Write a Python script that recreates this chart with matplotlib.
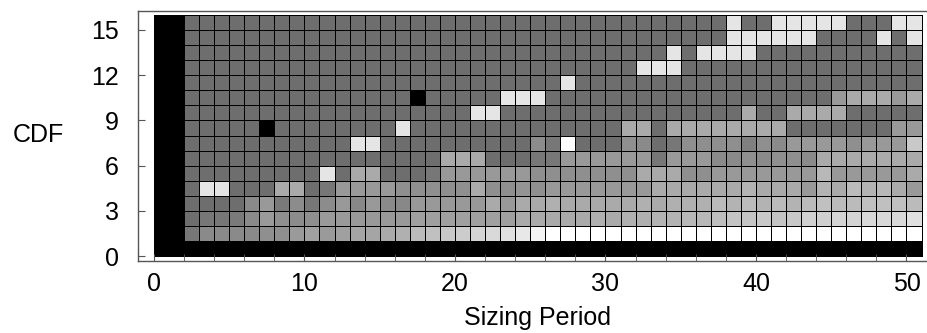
import matplotlib
matplotlib.use("Agg")
import matplotlib.pyplot as plt
import numpy as np

# grey level of each cell (0 = black, 255 = white), sizing periods 2..50
D, L, W, K = 110, 229, 255, 0

cdf_15 = [D] * 36 + [L, D, D, L, L, L, L, L, D, D, D, L, L]
cdf_14 = [D] * 36 + [L, L, L, L, L, L, D, D, D, D, L, D, L]
cdf_13 = [D] * 32 + [L, D, L, L, L, L] + [D] * 11
cdf_12 = [D] * 30 + [L, L, L] + [D] * 16
cdf_11 = [D] * 25 + [L] + [D] * 23
cdf_10 = [D] * 15 + [K] + [D] * 5 + [L, L, L] + [D] * 19 + [153, 170, 170, 170, 153, 170]
cdf_09 = [D] * 19 + [L, L] + [D] * 16 + [170, D, D, 170, 170, 170, 170, D, D, D, D, D]
cdf_08 = ([D] * 5 + [K] + [D] * 8 + [L] + [D] * 14
          + [170, 170, D, 170, 170, 170, 170, 170, 170, 170, 170] + [D] * 7 + [153, 153])
cdf_07 = ([D] * 11 + [L, L] + [D] * 10
          + [140, 119, W, D, D, D, 143, 138, D, 119, 143, 143, 143, 143, 128, 143, 138,
             153, 153, 153, 153, 143, 153, 153, 153, 200])
cdf_06 = ([D] * 17 + [170, 170, 170, D, D, D]
          + [119, 119, 153, 153, 153, 153, 153, 153, 119, 153, 153, 153, 138, 138, 143, 138,
             143, 143, 138, 170, 170, 170, 170, 170, 170, 170])
cdf_05 = ([D] * 9 + [L, D, 170, 170, D, D, D, 119]
          + [153, 153, 153, 153, 153, 153, 143, 143, 143, 143, 143, 143, 143, 170, 170, 170,
             143, 143, 153, 153, 153, 153, 153, 153, 153, 184, 153, 153, 153, 153, 153, 170])
cdf_04 = ([D, L, L, D, D, D, 170, 170, D, 119]
          + [153, 153, 153, 153, 143, 143, 143, 143, 143, 170, 143, 143, 148, 143, 153, 153,
             153, 153, 153, 153, 153, 170, 170, 170, 170, 170, 170, 179, 170, 170, 170, 153,
             179, 170, 187, 179, 184, 170, 153])
cdf_03 = ([D, D, D, D, 138, 153, 122, 140, 119, 140]
          + [153, 136, 153, 138, 136, 153, 153, 153, 153, 153, 170, 153, 170, 170, 176, 170,
             170, 170, 170, 170, 176, 170, 176, 176, 176, 187, 179, 187, 179, 187, 179, 187,
             192, 187, 187, 192, 192, 192, 187])
cdf_02 = ([D, 119, 119, 122, 138, 154, 143, 140, 143, 154]
          + [154, 153, 153, 153, 153, 160, 160, 160, 160, 160, 160, 160, 170, 170, 170, 170,
             170, 176, 170, 176, 176, 179, 179, 184, 184, 190, 196, 196, 200, 196, 200, 208,
             208, 212, 212, 216, 216, 216, 224])
cdf_01 = ([119, 138, 138, 138, 138, 143, 143, 154, 160, 154, 160, 165, 165, 170, 176, 187,
           192, 200, 204, 212, 217, 224, 232, 244] + [W] * 25)

rows = [cdf_01, cdf_02, cdf_03, cdf_04, cdf_05, cdf_06, cdf_07, cdf_08,
        cdf_09, cdf_10, cdf_11, cdf_12, cdf_13, cdf_14, cdf_15]

# periods 0-1 and CDF level 0 are black
grid = np.zeros((16, 51))
grid[1:, 2:] = np.array(rows) / 255.0

fig = plt.figure(figsize=(9.28, 3.33), dpi=100)
ax = fig.add_axes([0.149, 0.216, 0.851, 0.751])

ax.pcolormesh(np.arange(52), np.arange(17), grid, cmap="gray", vmin=0, vmax=1,
              edgecolors="black", linewidth=0.6)

ax.set_xlim(-1.04, 51.43)
ax.set_ylim(-0.33, 16.26)

ax.set_xticks(range(0, 51, 10))
ax.set_xticks(range(0, 51, 2), minor=True)
ax.set_yticks(range(0, 16, 3))

font = "Liberation Sans"
ax.tick_params(axis="x", which="both", direction="in", length=5, color="#555555",
               pad=8, labelsize=18)
ax.tick_params(axis="y", direction="in", length=5, color="#555555", pad=14, labelsize=18)
for lab in ax.get_xticklabels() + ax.get_yticklabels():
    lab.set_fontfamily(font)

for side in ["left", "bottom", "top"]:
    ax.spines[side].set_color("#555555")
    ax.spines[side].set_linewidth(1.0)
ax.spines["right"].set_visible(False)

ax.set_xlabel("Sizing Period", fontsize=18, fontfamily=font)
ax.xaxis.set_label_coords(0.5055, -0.181)
ax.set_ylabel("CDF", fontsize=18, fontfamily=font, rotation=0, va="center", ha="center")
ax.yaxis.set_label_coords(-0.1265, 0.504)

fig.savefig("out.png", dpi=100)
